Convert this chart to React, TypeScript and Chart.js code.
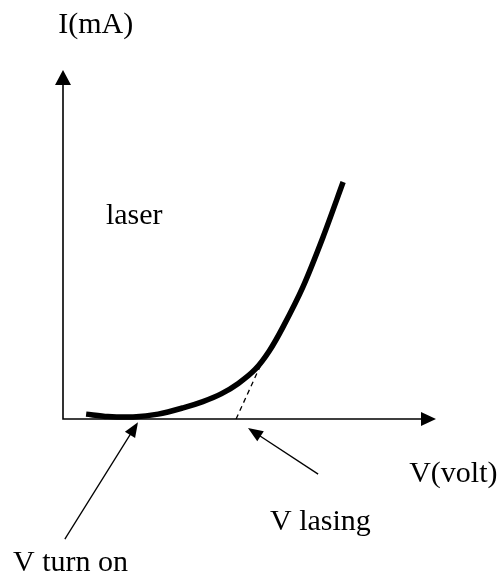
import { useEffect, useRef } from "react";
import { Chart, registerables } from "chart.js";

Chart.register(...registerables);

// I–V characteristic of the laser diode (arbitrary units)
const voltage = [0.62, 1.2, 1.88, 2.55, 3.22, 3.75, 4.24, 4.7, 5.15, 5.53, 5.9, 6.43, 6.97, 7.51];
const current = [0.14, 0.07, 0.06, 0.14, 0.32, 0.5, 0.72, 1.02, 1.42, 1.95, 2.64, 3.78, 5.21, 6.79];

// Tangent extrapolated down to the axis (V lasing)
const tangentV = [4.64, 5.4];
const tangentI = [0, 1.78];

// Axis extents
const xMax = 10;
const yMax = 10;

// Text labels
const labelTexts = ["I(mA)", "laser", "V(volt)", "V lasing", "V turn on"];
const labelV = [-0.13, 1.15, 9.28, 5.55, -1.34];
const labelI = [11.06, 5.59, -1.81, -3.18, -4.36];

// Annotation arrows: tail -> tip
const arrowTailV = [0.05, 6.84];
const arrowTailI = [-3.44, -1.58];
const arrowTipV = [2.01, 4.96];
const arrowTipI = [-0.09, -0.26];

function head(ctx: CanvasRenderingContext2D, x1: number, y1: number, x2: number, y2: number, len: number, half: number) {
  const a = Math.atan2(y2 - y1, x2 - x1);
  const bx = x2 - len * Math.cos(a);
  const by = y2 - len * Math.sin(a);
  ctx.beginPath();
  ctx.moveTo(x2, y2);
  ctx.lineTo(bx + half * Math.sin(a), by - half * Math.cos(a));
  ctx.lineTo(bx - half * Math.sin(a), by + half * Math.cos(a));
  ctx.closePath();
  ctx.fill();
}

const diagramPlugin = {
  id: "diagram",
  beforeDatasetsDraw(chart: any) {
    const ctx = chart.ctx as CanvasRenderingContext2D;
    const xs = chart.scales.x;
    const ys = chart.scales.y;
    const x0 = xs.getPixelForValue(0);
    const y0 = ys.getPixelForValue(0);
    const xe = xs.getPixelForValue(xMax);
    const ye = ys.getPixelForValue(yMax);
    ctx.save();
    ctx.strokeStyle = "#000";
    ctx.fillStyle = "#000";
    ctx.lineWidth = 1.6;
    ctx.beginPath();
    ctx.moveTo(x0, ye + 10);
    ctx.lineTo(x0, y0);
    ctx.lineTo(xe - 10, y0);
    ctx.stroke();
    head(ctx, x0, y0, x0, ye, 15, 8);
    head(ctx, x0, y0, xe, y0, 15, 7);
    ctx.restore();
  },
  afterDatasetsDraw(chart: any) {
    const ctx = chart.ctx as CanvasRenderingContext2D;
    const xs = chart.scales.x;
    const ys = chart.scales.y;
    ctx.save();
    ctx.strokeStyle = "#000";
    ctx.fillStyle = "#000";
    ctx.lineWidth = 1.3;
    for (let i = 0; i < arrowTailV.length; i++) {
      const x1 = xs.getPixelForValue(arrowTailV[i]);
      const y1 = ys.getPixelForValue(arrowTailI[i]);
      const x2 = xs.getPixelForValue(arrowTipV[i]);
      const y2 = ys.getPixelForValue(arrowTipI[i]);
      const a = Math.atan2(y2 - y1, x2 - x1);
      ctx.beginPath();
      ctx.moveTo(x1, y1);
      ctx.lineTo(x2 - 8 * Math.cos(a), y2 - 8 * Math.sin(a));
      ctx.stroke();
      head(ctx, x1, y1, x2, y2, 15, 6);
    }
    ctx.font = '30px "Liberation Serif", "Times New Roman", serif';
    ctx.textAlign = "left";
    ctx.textBaseline = "alphabetic";
    for (let i = 0; i < labelTexts.length; i++) {
      ctx.fillText(labelTexts[i], xs.getPixelForValue(labelV[i]), ys.getPixelForValue(labelI[i]));
    }
    ctx.restore();
  },
};

export default function App() {
  const ref = useRef<HTMLCanvasElement | null>(null);
  useEffect(() => {
    if (!ref.current) return;
    const chart = new Chart(ref.current, {
      type: "scatter",
      data: {
        datasets: [
          {
            data: voltage.map((v, i) => ({ x: v, y: current[i] })),
            showLine: true,
            borderColor: "#000",
            borderWidth: 5.5,
            pointRadius: 0,
            tension: 0.3,
            borderCapStyle: "butt",
            clip: false,
          },
          {
            data: tangentV.map((v, i) => ({ x: v, y: tangentI[i] })),
            showLine: true,
            borderColor: "#000",
            borderWidth: 1.3,
            borderDash: [5, 4],
            pointRadius: 0,
            clip: false,
          },
        ],
      },
      options: {
        animation: false,
        responsive: true,
        maintainAspectRatio: false,
        layout: { padding: { left: 63, right: 66, top: 70, bottom: 157 } },
        plugins: { legend: { display: false }, tooltip: { enabled: false } },
        events: [],
        scales: {
          x: { type: "linear", min: 0, max: xMax, display: false },
          y: { type: "linear", min: 0, max: yMax, display: false },
        },
      },
      plugins: [diagramPlugin],
    } as any);
    return () => chart.destroy();
  }, []);
  return (
    <div style={{ position: "fixed", left: 0, top: 0, width: 502, height: 576, background: "#fff" }}>
      <canvas ref={ref} />
    </div>
  );
}
